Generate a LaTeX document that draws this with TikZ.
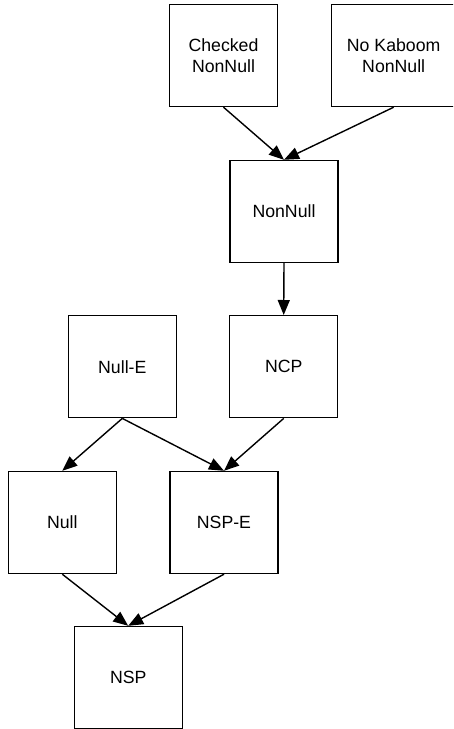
\documentclass[tikz,border=0pt]{standalone}
\usepackage{fontspec}
\setmainfont{Liberation Sans}
\usetikzlibrary{arrows.meta}
\begin{document}
\begin{tikzpicture}[x=1pt,y=-1pt,
  box/.style={draw, line width=1.4pt, minimum width=108pt, minimum height=102pt,
    inner sep=0pt, align=center, font=\fontsize{17.7}{21}\selectfont},
  conn/.style={line width=1.4pt, -{Triangle[length=15pt,width=12pt]}}]
\useasboundingbox (0,0) rectangle (453,729);
\begin{scope}
\clip (0,0) rectangle (453,729);
\node[box] (checked) at (223.5,55.5) {Checked\\NonNull};
\node[box, minimum width=124pt] (kaboom) at (393.7,55.5) {No Kaboom\\NonNull};
\node[box] (nonnull) at (284,211.5) {NonNull};
\node[box] (nulle) at (122.3,366.7) {Null-E};
\node[box] (ncp) at (283.7,366.7) {NCP};
\node[box] (null) at (62.3,522.5) {Null};
\node[box] (nspe) at (224,522.5) {NSP-E};
\node[box] (nsp) at (128.2,677.5) {NSP};
\end{scope}
\draw[conn] (checked.south) -- (nonnull.north);
\draw[conn] (kaboom.south) -- (nonnull.north);
\draw[conn] (nonnull.south) -- (ncp.north);
\draw[conn] (nulle.south) -- (null.north);
\draw[conn] (nulle.south) -- (nspe.north);
\draw[conn] (ncp.south) -- (nspe.north);
\draw[conn] (null.south) -- (nsp.north);
\draw[conn] (nspe.south) -- (nsp.north);
\end{tikzpicture}
\end{document}
